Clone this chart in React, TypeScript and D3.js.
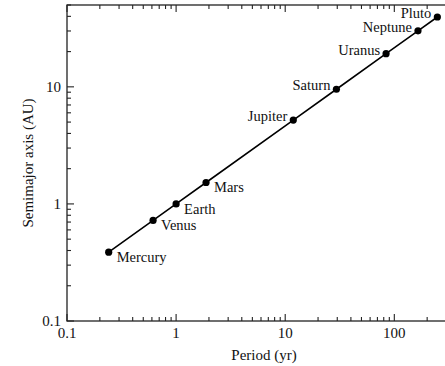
import React from "react";
import * as d3 from "d3";

const planets = ["Mercury", "Venus", "Earth", "Mars", "Jupiter", "Saturn", "Uranus", "Neptune", "Pluto"];
const periods = [0.241, 0.615, 1.0, 1.881, 11.86, 29.46, 84.01, 164.8, 248.0];
const axes = [0.387, 0.723, 1.0, 1.524, 5.203, 9.537, 19.19, 30.07, 39.5];
const labelSide = ["right", "right", "right", "right", "left", "left", "left", "left", "left"];
const xTickValues = [0.1, 1, 10, 100];
const xTickLabels = ["0.1", "1", "10", "100"];
const yTickValues = [0.1, 1, 10];
const yTickLabels = ["0.1", "1", "10"];

const W = 445;
const H = 366;
const left = 67;
const right = 460;
const top = 5;
const bottom = 321;
const FONT = "'Liberation Serif', 'Times New Roman', serif";

function minorTicks(lo: number, hi: number) {
  const out: { v: number; major: boolean }[] = [];
  for (let e = -1; e <= 3; e++) {
    for (let m = 1; m <= 9; m++) {
      const v = m * Math.pow(10, e);
      if (v >= lo * 0.999 && v <= hi * 1.001) out.push({ v, major: m === 1 });
    }
  }
  return out;
}

export default function App() {
  const x = d3.scaleLog().domain([0.1, 400]).range([left, right]);
  const y = d3.scaleLog().domain([0.1, 50]).range([bottom, top]);
  const line = d3
    .line<number>()
    .x((_, i) => x(periods[i]))
    .y((_, i) => y(axes[i]));
  const xt = minorTicks(0.1, 400);
  const yt = minorTicks(0.1, 50);
  const majorLen = 7;
  const minorLen = 4;
  const stroke = "#222";
  return (
    <svg
      width={W}
      height={H}
      style={{ position: "absolute", left: 0, top: 0, background: "#fff" }}
      fontFamily={FONT}
    >
      <rect x={0} y={0} width={W} height={H} fill="#fff" />
      <rect
        x={left}
        y={top}
        width={right - left}
        height={bottom - top}
        fill="none"
        stroke={stroke}
        strokeWidth={1.3}
      />
      {xt.map((t, i) => {
        const len = t.major ? majorLen : minorLen;
        const px = x(t.v);
        return (
          <g key={"xt" + i}>
            <line x1={px} x2={px} y1={bottom} y2={bottom - len} stroke={stroke} strokeWidth={1.1} />
            <line x1={px} x2={px} y1={top} y2={top + len} stroke={stroke} strokeWidth={1.1} />
          </g>
        );
      })}
      {yt.map((t, i) => {
        const len = t.major ? majorLen : minorLen;
        const py = y(t.v);
        return (
          <g key={"yt" + i}>
            <line x1={left} x2={left + len} y1={py} y2={py} stroke={stroke} strokeWidth={1.1} />
            <line x1={right} x2={right - len} y1={py} y2={py} stroke={stroke} strokeWidth={1.1} />
          </g>
        );
      })}
      {xTickValues.map((v, i) => (
        <text key={"xl" + i} x={x(v)} y={338} textAnchor="middle" fontSize={15} fill="#111">
          {xTickLabels[i]}
        </text>
      ))}
      {yTickValues.map((v, i) => (
        <text key={"yl" + i} x={61} y={y(v) + 5} textAnchor="end" fontSize={15} fill="#111">
          {yTickLabels[i]}
        </text>
      ))}
      <text x={264} y={360} textAnchor="middle" fontSize={15} fill="#111">
        Period (yr)
      </text>
      <text
        transform={`translate(33,163) rotate(-90)`}
        textAnchor="middle"
        fontSize={15}
        fill="#111"
      >
        Semimajor axis (AU)
      </text>
      <path d={line(periods) || ""} fill="none" stroke="#000" strokeWidth={1.6} />
      {periods.map((p, i) => (
        <circle key={"pt" + i} cx={x(p)} cy={y(axes[i])} r={3.6} fill="#000" />
      ))}
      {planets.map((name, i) => {
        const px = x(periods[i]);
        const py = y(axes[i]);
        const isRight = labelSide[i] === "right";
        return (
          <text
            key={"lab" + i}
            x={isRight ? px + 8 : px - 6}
            y={isRight ? py + 10 : py + 1}
            textAnchor={isRight ? "start" : "end"}
            fontSize={14.5}
            fill="#111"
          >
            {name}
          </text>
        );
      })}
    </svg>
  );
}
